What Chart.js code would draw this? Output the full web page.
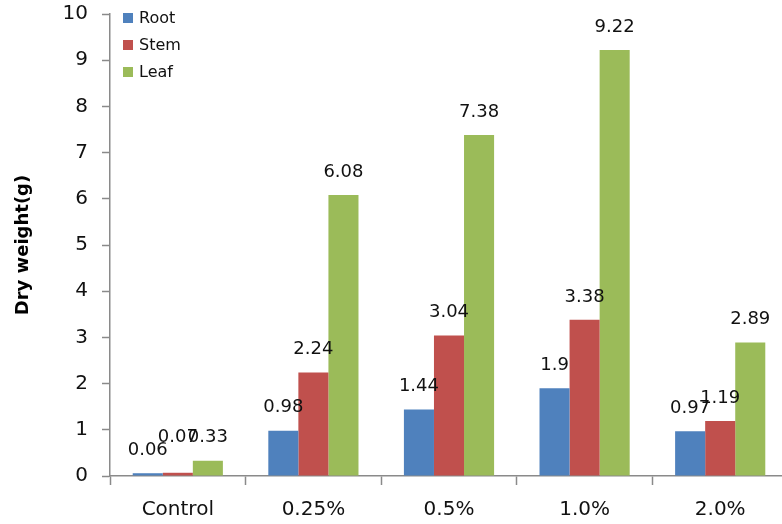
<!DOCTYPE html>
<html>
<head>
<meta charset="utf-8">
<script src="https://cdn.jsdelivr.net/npm/chart.js@4/dist/chart.umd.min.js"></script>
<style>
  html, body { margin: 0; padding: 0; background: #fff; overflow: hidden; }
  #wrap { width: 782px; height: 524px; overflow: hidden; }
</style>
</head>
<body>
<div id="wrap"><canvas id="c" width="788" height="524"></canvas></div>
<script>
// Dry weight of plant parts under each treatment
const categories = ['Control', '0.25%', '0.5%', '1.0%', '2.0%'];
const rootValues = [0.06, 0.98, 1.44, 1.9, 0.97];
const stemValues = [0.07, 2.24, 3.04, 3.38, 1.19];
const leafValues = [0.33, 6.08, 7.38, 9.22, 2.89];
const seriesNames = ['Root', 'Stem', 'Leaf'];
const seriesColors = ['#4F81BD', '#C0504D', '#9BBB59'];
const yTicks = [0, 1, 2, 3, 4, 5, 6, 7, 8, 9, 10];

const FONT = '"DejaVu Sans", Verdana, sans-serif';
const AXIS_GREY = '#8a8a8a';

// Value labels above each bar and a legend in the top-left of the plot
const annotate = {
  id: 'annotate',
  afterDatasetsDraw(chart) {
    const ctx = chart.ctx;
    ctx.save();
    ctx.font = '18px ' + FONT;
    ctx.fillStyle = '#111';
    ctx.textAlign = 'center';
    ctx.textBaseline = 'middle';
    chart.data.datasets.forEach((ds, di) => {
      const meta = chart.getDatasetMeta(di);
      meta.data.forEach((bar, i) => {
        let y = bar.y - 23;
        // lift a label that sits at the same height as its left neighbour's
        if (di > 0) {
          const prev = chart.getDatasetMeta(di - 1).data[i];
          if (Math.abs(prev.y - bar.y) < 5) {
            const nextMeta = chart.getDatasetMeta(di + 1);
            const next = nextMeta && nextMeta.data[i];
            y = next ? next.y - 23 : y - 13;
          }
        }
        ctx.fillText(String(ds.data[i]), bar.x, y);
      });
    });

    const area = chart.chartArea;
    ctx.textAlign = 'left';
    ctx.font = '16px ' + FONT;
    chart.data.datasets.forEach((ds, di) => {
      const cy = area.top + 4 + di * 27;
      ctx.fillStyle = ds.backgroundColor;
      ctx.fillRect(area.left + 13, cy - 5, 10, 10);
      ctx.fillStyle = '#111';
      ctx.fillText(ds.label, area.left + 29, cy + 1);
    });
    ctx.restore();
  }
};

new Chart(document.getElementById('c'), {
  type: 'bar',
  data: {
    labels: categories,
    datasets: [
      { label: seriesNames[0], data: rootValues, backgroundColor: seriesColors[0] },
      { label: seriesNames[1], data: stemValues, backgroundColor: seriesColors[1] },
      { label: seriesNames[2], data: leafValues, backgroundColor: seriesColors[2] }
    ]
  },
  options: {
    responsive: false,
    animation: false,
    devicePixelRatio: 1,
    layout: { padding: { top: 14, left: 0, right: 0, bottom: 0 } },
    datasets: { bar: { categoryPercentage: 0.665, barPercentage: 1.0, borderWidth: 0 } },
    plugins: {
      legend: { display: false },
      tooltip: { enabled: false }
    },
    scales: {
      x: {
        offset: true,
        grid: {
          display: true,
          offset: true,
          drawOnChartArea: false,
          drawTicks: true,
          tickLength: 9,
          tickColor: AXIS_GREY,
          tickWidth: 1.5
        },
        border: { display: true, color: AXIS_GREY, width: 1.5 },
        ticks: { color: '#111', font: { family: FONT, size: 20 }, padding: 13, maxRotation: 0 },
        afterFit(scale) {
          scale.height = 48;
          scale.paddingLeft = 0;
          scale.paddingRight = 0;
        }
      },
      y: {
        min: 0,
        max: 10,
        afterBuildTicks(scale) { scale.ticks = yTicks.map(v => ({ value: v })); },
        grid: {
          display: true,
          drawOnChartArea: false,
          drawTicks: true,
          tickLength: 8,
          tickColor: AXIS_GREY,
          tickWidth: 1.5
        },
        border: { display: true, color: AXIS_GREY, width: 1.5 },
        ticks: { color: '#111', font: { family: FONT, size: 20 }, padding: 14 },
        title: {
          display: true,
          text: 'Dry weight(g)',
          color: '#000',
          font: { family: FONT, size: 18, weight: 'bold' },
          padding: { top: 13, bottom: 0 }
        },
        afterFit(scale) {
          scale.width = 110;
          scale.paddingTop = 0;
          scale.paddingBottom = 0;
        }
      }
    }
  },
  plugins: [annotate]
});
</script>
</body>
</html>
